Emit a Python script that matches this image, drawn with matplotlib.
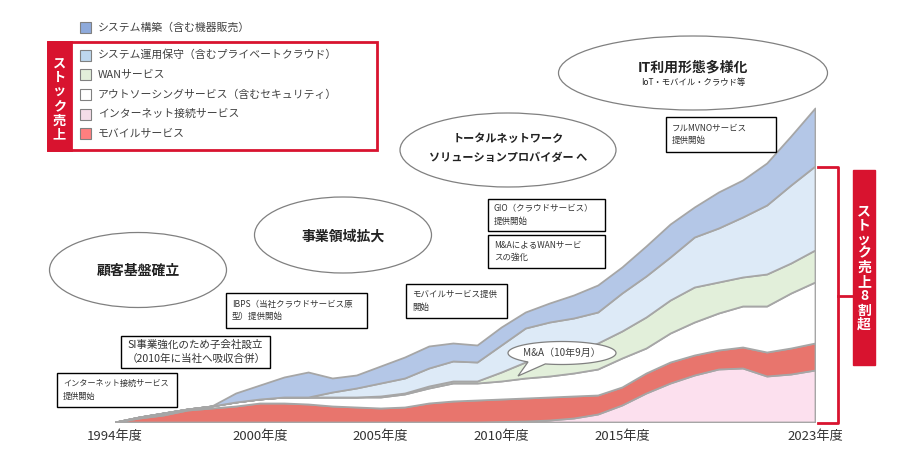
import numpy as np
import matplotlib
matplotlib.use("Agg")
import matplotlib.pyplot as plt
from matplotlib.patches import Ellipse, Rectangle, Polygon

plt.rcParams['font.family'] = ['Noto Sans CJK JP', 'DejaVu Sans']

# ---- data (layer thickness; arbitrary units) ----
years = list(range(1994, 2024))
pink = [0, 0, 0, 0, 0, 0, 0, 0, 0, 0, 0, 0, 0, 0, 0,
        0, 0.5, 1, 2, 4, 8, 17, 29, 39, 47, 53, 54, 46, 48, 52]
red = [0, 4, 7, 12, 14, 16, 19, 19, 18, 16, 15, 14, 15, 19, 21,
       22, 22.5, 23, 23, 22, 19, 18, 20, 21, 20, 19, 21, 24, 26, 27]
white = [0, 1, 2, 1, 2, 4, 4, 6, 7, 9, 10, 11, 13, 15, 18,
         17, 18, 20, 21, 23, 26, 29, 25, 29, 33, 37, 41, 46, 55, 61]
green = [0, 0, 0, 0, 0, 0, 0, 0, 0, 0, 0, 1, 1, 2, 2,
         2, 9, 16, 19, 21, 26, 27, 31, 33, 35, 31, 29, 32, 30, 32]
lightblue = [0, 0, 0, 0, 0, 0, 0, 0, 0, 5, 9, 13, 15, 18, 20,
             19, 27, 34, 35, 34, 31, 38, 41, 43, 50, 54, 60, 69, 78, 84]
blue = [0, 0, 0, 0, 0, 9, 14, 20, 25, 14, 13, 17, 21, 22, 18,
        17, 18, 16, 19, 23, 27, 26, 30, 33, 30, 36, 37, 42, 49, 58]

tick_years = [1994, 2000, 2005, 2010, 2015, 2023]
tick_labels = ['1994年度', '2000年度', '2005年度', '2010年度', '2015年度', '2023年度']

legend_labels = ['システム構築（含む機器販売）',
                 'システム運用保守（含むプライベートクラウド）',
                 'WANサービス',
                 'アウトソーシングサービス（含むセキュリティ）',
                 'インターネット接続サービス',
                 'モバイルサービス']
legend_colors = ['#8EAADB', '#BDD7EE', '#E2EFDA', '#FFFFFF', '#F4DDE8', '#FF7F7F']

RED = '#D8132F'
W, H = 907, 471

fig = plt.figure(figsize=(W / 100, H / 100), dpi=100)

# chart area
ax = fig.add_axes([115 / W, 49 / H, 700 / W, 330 / H])
ax.stackplot(years, pink, red, white, green, lightblue, blue,
             colors=['#FCE0EE', '#E8756D', '#FFFFFF', '#E2EFDA', '#DDEAF7', '#B4C7E7'],
             edgecolor='#A6A6A6', linewidth=1.3)
ax.set_xlim(1994, 2023)
ax.set_ylim(0, 330)
for s in ax.spines.values():
    s.set_visible(False)
ax.set_yticks([])
ax.set_xticks(tick_years)
ax.set_xticklabels(tick_labels, fontsize=9.5, color='#333333')
ax.tick_params(axis='x', length=0, pad=6)
ax.patch.set_alpha(0)

# overlay in pixel coordinates
ov = fig.add_axes([0, 0, 1, 1], zorder=5)
ov.set_xlim(0, W)
ov.set_ylim(H, 0)
ov.axis('off')
ov.patch.set_alpha(0)

# legend
ov.add_patch(Rectangle((48, 42), 329, 108, fill=False, edgecolor=RED, lw=2))
ov.add_patch(Rectangle((48, 42), 23, 108, facecolor=RED, edgecolor=RED, lw=2))
ov.text(59.5, 99, '\n'.join('ストック売上'), color='white', fontsize=9.5, fontweight='bold',
        ha='center', va='center', linespacing=1.02)
for i, (lab, col) in enumerate(zip(legend_labels, legend_colors)):
    yc = 27.5 if i == 0 else 55 + (i - 1) * 19.7
    ov.add_patch(Rectangle((80, yc - 5.5), 11, 11, facecolor=col, edgecolor='#808080', lw=0.8))
    ov.text(98, yc, lab, fontsize=7.8, color='#404040', va='center', ha='left')

# ellipses
def bubble(cx, cy, w, h):
    ov.add_patch(Ellipse((cx, cy), w, h, facecolor='white', edgecolor='#808080', lw=0.9))

bubble(138, 270, 177, 75)
ov.text(138, 271, '顧客基盤確立', fontsize=10, fontweight='bold', ha='center', va='center', color='#222222')
bubble(343, 235, 177, 76)
ov.text(343, 237, '事業領域拡大', fontsize=10, fontweight='bold', ha='center', va='center', color='#222222')
bubble(508, 150, 216, 74)
ov.text(508, 138, 'トータルネットワーク', fontsize=8, fontweight='bold', ha='center', va='center', color='#222222')
ov.text(508, 157, 'ソリューションプロバイダー へ', fontsize=8, fontweight='bold', ha='center', va='center', color='#222222')
bubble(693, 73, 269, 74)
ov.text(693, 67, 'IT利用形態多様化', fontsize=10, fontweight='bold', ha='center', va='center', color='#222222')
ov.text(693, 83, 'IoT・モバイル・クラウド等', fontsize=6, ha='center', va='center', color='#222222')

# annotation boxes
def note(x0, y0, x1, y1, txt, fs=6.1):
    ov.add_patch(Rectangle((x0, y0), x1 - x0, y1 - y0, facecolor='white', edgecolor='black', lw=1))
    ov.text(x0 + 6, (y0 + y1) / 2, txt, fontsize=fs, ha='left', va='center',
            color='#333333', linespacing=1.5)

note(57, 373, 177, 407, 'インターネット接続サービス\n提供開始', fs=5.9)
note(121, 336, 270, 368, 'SI事業強化のため子会社設立\n（2010年に当社へ吸収合併）', fs=7.6)
note(226, 293, 367, 328, 'IBPS（当社クラウドサービス原\n型）提供開始')
note(406, 284, 507, 318, 'モバイルサービス提供\n開始')
note(488, 199, 605, 231, 'GIO（クラウドサービス）\n提供開始')
note(488, 235, 605, 268, 'M&AによるWANサービ\nスの強化')
note(666, 117, 776, 152, 'フルMVNOサービス\n提供開始')

# speech bubble
cx, cy, a, b = 562, 353, 54, 11.5
t1 = np.linspace(0, np.radians(108), 40)
t2 = np.linspace(np.radians(129), 2 * np.pi, 80)
pts = [(cx + a * np.cos(t), cy + b * np.sin(t)) for t in t1]
pts.append((518, 376))
pts += [(cx + a * np.cos(t), cy + b * np.sin(t)) for t in t2]
ov.add_patch(Polygon(pts, closed=True, facecolor='white', edgecolor='#808080', lw=0.9))
ov.text(cx, cy, 'M&A（10年9月）', fontsize=7.2, ha='center', va='center', color='#404040')

# stock bracket
ov.plot([818, 838, 838, 818], [167, 167, 423, 423], color=RED, lw=2)
ov.plot([838, 853], [296, 296], color=RED, lw=2)
ov.add_patch(Rectangle((853, 170), 22, 195, facecolor=RED, edgecolor=RED))
ov.text(864, 268, '\n'.join('ストック売上8割超'), color='white', fontsize=10, fontweight='bold',
        ha='center', va='center', linespacing=1.02)

fig.savefig('out.png', dpi=100)
